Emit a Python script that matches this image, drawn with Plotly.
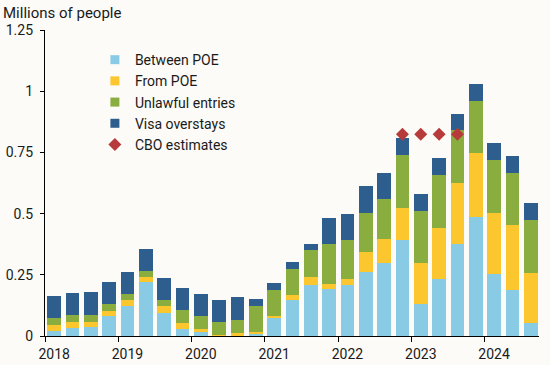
import plotly.graph_objects as go

quarters = [f"{y} Q{q}" for y in range(2018, 2025) for q in range(1, 5)][:27]
between_poe = [0.020, 0.034, 0.037, 0.083, 0.124, 0.221, 0.094, 0.029,
               0.018, 0.003, 0.004, 0.009, 0.075, 0.148, 0.208, 0.193,
               0.208, 0.263, 0.298, 0.393, 0.132, 0.233, 0.377, 0.487,
               0.254, 0.189, 0.054]
from_poe = [0.025, 0.023, 0.020, 0.019, 0.023, 0.020, 0.029, 0.024,
            0.011, 0.002, 0.008, 0.007, 0.007, 0.021, 0.034, 0.021,
            0.026, 0.081, 0.099, 0.131, 0.168, 0.208, 0.249, 0.262,
            0.250, 0.266, 0.205]
unlawful = [0.027, 0.029, 0.029, 0.029, 0.025, 0.025, 0.024, 0.053,
            0.053, 0.052, 0.053, 0.107, 0.106, 0.106, 0.111, 0.163,
            0.159, 0.160, 0.164, 0.217, 0.212, 0.218, 0.217, 0.212,
            0.216, 0.212, 0.216]
visa = [0.091, 0.090, 0.094, 0.090, 0.089, 0.089, 0.090, 0.090,
        0.090, 0.090, 0.094, 0.028, 0.028, 0.027, 0.023, 0.105,
        0.105, 0.109, 0.105, 0.069, 0.069, 0.069, 0.065, 0.070,
        0.070, 0.070, 0.070]
cbo_quarters = ["2022 Q4", "2023 Q1", "2023 Q2", "2023 Q3"]
cbo_values = [0.824, 0.824, 0.824, 0.824]
year_labels = ["2018", "2019", "2020", "2021", "2022", "2023", "2024"]
y_ticks = [0, 0.25, 0.5, 0.75, 1, 1.25]
y_tick_text = ["0", "0.25", "0.5", "0.75", "1", "1.25"]

idx = list(range(len(quarters)))
cbo_idx = [quarters.index(q) for q in cbo_quarters]

series = [
    ("Between POE", between_poe, "#89CBE5"),
    ("From POE", from_poe, "#FBC62E"),
    ("Unlawful entries", unlawful, "#8AAD3F"),
    ("Visa overstays", visa, "#2E5E8D"),
]

fig = go.Figure()
for name, vals, col in series:
    fig.add_trace(go.Bar(x=idx, y=vals, name=name, marker_color=col,
                         marker_line_width=0, showlegend=False,
                         hovertext=quarters))
    fig.add_trace(go.Scatter(x=[None], y=[None], mode="markers", name=name,
                             marker=dict(symbol="square", size=9, color=col)))
fig.add_trace(go.Scatter(x=cbo_idx, y=cbo_values, mode="markers",
                         name="CBO estimates",
                         marker=dict(symbol="diamond", size=10, color="#B83B3B")))

font = "Roboto, Arial, sans-serif"
bg = "#FCFBF7"
fig.update_layout(
    barmode="stack",
    bargap=0.25,
    width=550, height=365,
    margin=dict(l=45, r=11, t=30, b=29, autoexpand=False),
    paper_bgcolor=bg, plot_bgcolor=bg,
    font=dict(family=font, size=14, color="#1a1a1a"),
    title=dict(text="Millions of people", x=3/550, xref="container",
               y=1 - 13/365, yref="container", xanchor="left", yanchor="middle",
               font=dict(size=15, family=font, color="#1a1a1a")),
    legend=dict(x=0.101, y=0.954, xanchor="left", yanchor="top",
                bgcolor="rgba(0,0,0,0)", font=dict(size=14),
                traceorder="normal", itemwidth=30),
    xaxis=dict(range=[-0.5, 26.45], tickmode="array",
               tickvals=[i * 4 for i in range(len(year_labels))],
               ticktext=year_labels, ticks="", showgrid=False,
               showline=True, linecolor="#000", linewidth=1.3,
               zeroline=False, automargin=False, ticklabelstandoff=5,
               minor=dict(tickmode="linear", tick0=-0.5, dtick=4,
                          ticks="outside", ticklen=5, tickcolor="#000",
                          tickwidth=1.3, showgrid=False)),
    yaxis=dict(range=[0, 1.25], tickmode="array", tickvals=y_ticks,
               ticktext=y_tick_text, ticks="outside", ticklen=4,
               tickcolor="#000", tickwidth=1.3, showgrid=False,
               showline=True, linecolor="#000", linewidth=1.3,
               zeroline=False, ticklabelstandoff=4, automargin=False),
)
fig.write_html("out.html", config={"displayModeBar": False},
               post_script="document.body.style.margin='0';"
                           "document.body.style.background='#FCFBF7';")
